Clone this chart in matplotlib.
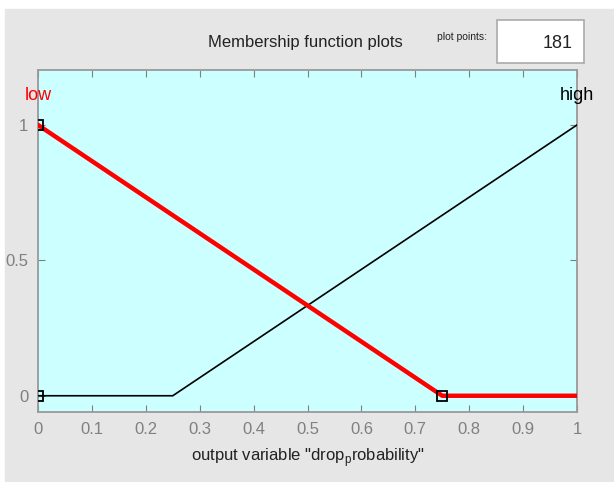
import matplotlib.pyplot as plt
import matplotlib.patches as mpatches
from matplotlib import font_manager

# ---- data ----
mf_names = ['low', 'high']
low_x = [0.0, 0.75, 1.0]
low_y = [1.0, 0.0, 0.0]
high_x = [0.0, 0.25, 1.0]
high_y = [0.0, 0.0, 1.0]
vertex_x = [0.0, 0.0, 0.75]
vertex_y = [1.0, 0.0, 0.0]
x_ticks = [0, 0.1, 0.2, 0.3, 0.4, 0.5, 0.6, 0.7, 0.8, 0.9, 1]
x_ticklabels = ['0', '0.1', '0.2', '0.3', '0.4', '0.5', '0.6', '0.7', '0.8', '0.9', '1']
y_ticks = [0, 0.5, 1]
y_ticklabels = ['0', '0.5', '1']
plot_points = '181'

names = {f.name for f in font_manager.fontManager.ttflist}
narrow = 'Liberation Sans Narrow' if 'Liberation Sans Narrow' in names else 'Liberation Sans'
plt.rcParams['font.family'] = [narrow, 'DejaVu Sans']
plt.rcParams['mathtext.fontset'] = 'custom'
plt.rcParams['mathtext.rm'] = narrow

W, H = 614, 482
fig = plt.figure(figsize=(W / 100, H / 100), dpi=100, facecolor='white')
# gray panel like the GUI background
fig.patches.append(mpatches.Rectangle((5 / W, 0), 1 - 5 / W, 1 - 9 / H,
                                      transform=fig.transFigure, color='#e6e6e6', zorder=-5))

ax = fig.add_axes([38 / W, (H - 412) / H, (577 - 38) / W, (412 - 70) / H])
ax.set_zorder(2)
ax.set_facecolor('#ccffff')
ax.plot(high_x, high_y, color='black', lw=1.2, zorder=3)
ax.plot(low_x, low_y, color='red', lw=3.2, zorder=4)
ax.plot(vertex_x, vertex_y, ls='none', marker='s', ms=7, mfc='none', mec='black', mew=1.3, zorder=5)

ax.set_xlim(0, 1)
ax.set_ylim(-0.06, 1.203)
ax.set_xticks(x_ticks)
ax.set_xticklabels(x_ticklabels)
ax.set_yticks(y_ticks)
ax.set_yticklabels(y_ticklabels)
ax.tick_params(direction='in', length=5, color='#808080', labelcolor='#808080',
               labelsize=12, top=True, right=True, pad=7)
for s in ax.spines.values():
    s.set_color('#999999')
    s.set_linewidth(1.3)

ax.set_xlabel('output variable "drop$_\\mathregular{p}$robability"', fontsize=12,
              color='#222222', labelpad=7)

ax.text(0, 1.107, mf_names[0], color='red', fontsize=13, ha='center', va='center',
        clip_on=False)
ax.text(1, 1.107, mf_names[1], color='black', fontsize=13, ha='center', va='center',
        clip_on=False)

fig.text(305 / W, 1 - 42 / H, 'Membership function plots', fontsize=12,
         color='#222222', ha='center', va='center')
fig.text(462 / W, 1 - 37 / H, 'plot points:', fontsize=7.5, color='#222222',
         ha='center', va='center')
fig.patches.append(mpatches.Rectangle((497 / W, 1 - 63 / H), 87 / W, 43 / H,
                                      transform=fig.transFigure, facecolor='white',
                                      edgecolor='#aaaaaa', lw=1.2, zorder=1))
fig.text(573 / W, 1 - 43 / H, plot_points, fontsize=13, color='#222222',
         ha='right', va='center')

fig.savefig('out.png', dpi=100)
